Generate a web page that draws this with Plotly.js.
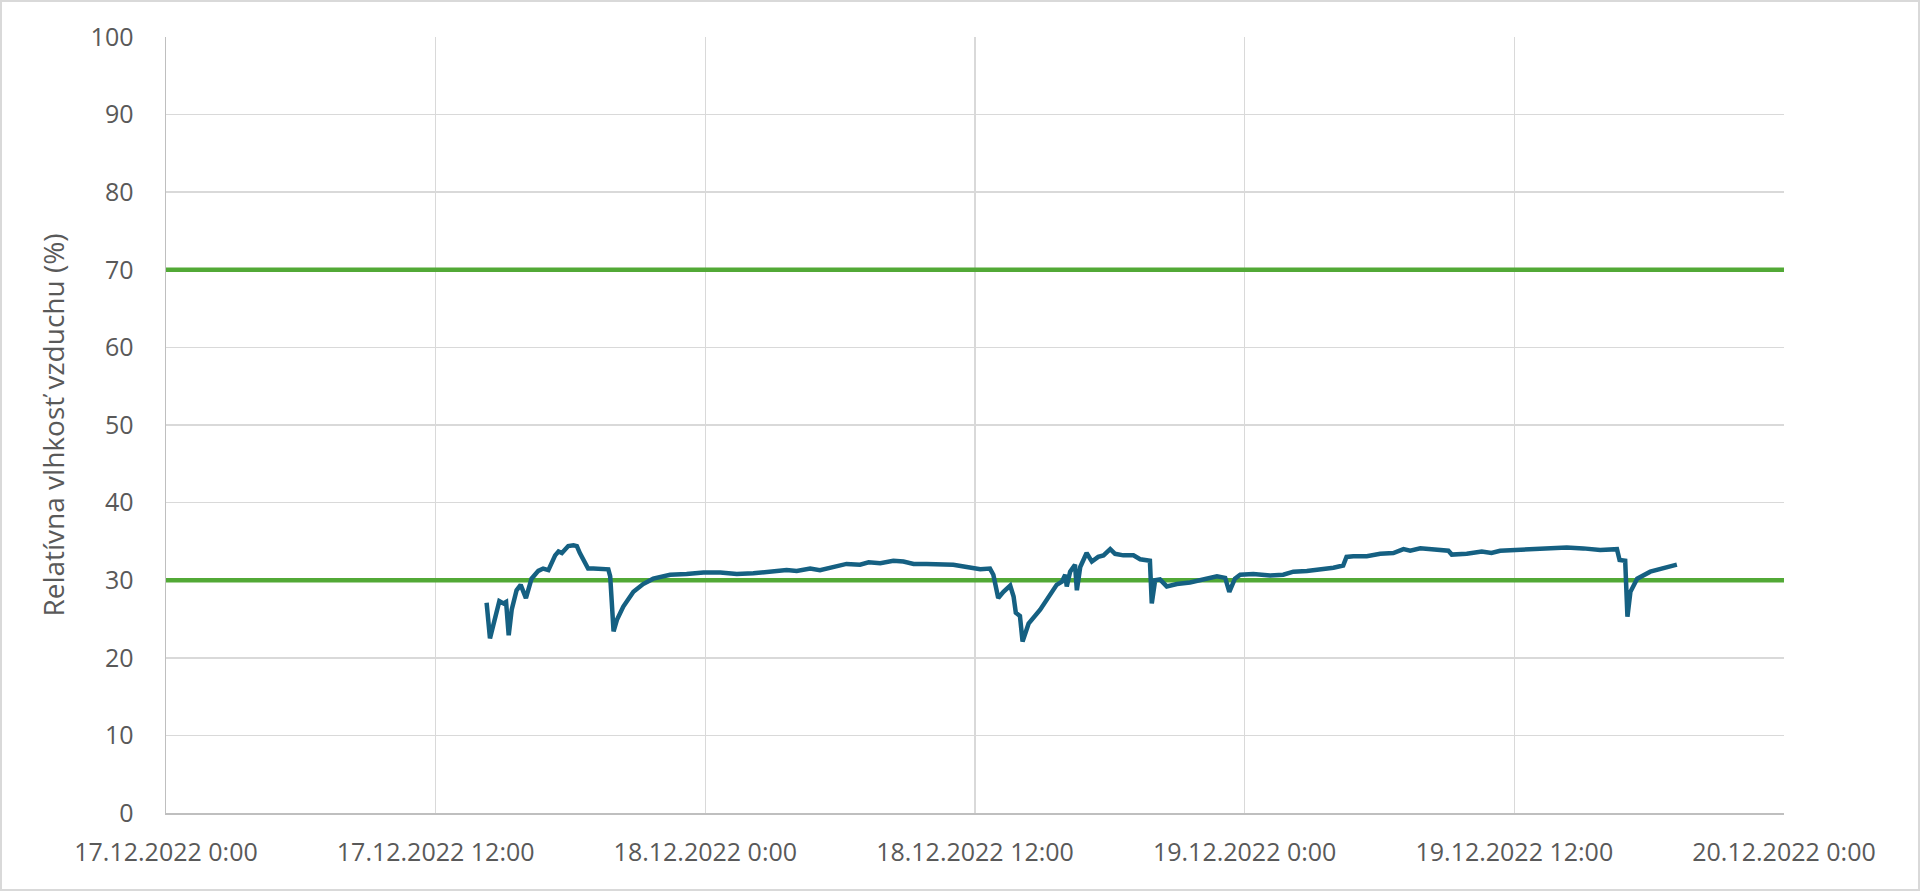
<!DOCTYPE html>
<html>
<head>
<meta charset="utf-8">
<script src="https://cdn.plot.ly/plotly-3.0.1.min.js"></script>
<style>
html,body{margin:0;padding:0;background:#fff;}
#wrap{position:relative;width:1920px;height:891px;}
#chart{width:1920px;height:891px;}
#frame{position:absolute;left:0;top:0;width:1920px;height:891px;box-sizing:border-box;border:2px solid #d9d9d9;pointer-events:none;}
</style>
</head>
<body>
<div id="wrap"><div id="chart"></div><div id="frame"></div></div>
<script>
const times = [
"2022-12-17 14:16","2022-12-17 14:25","2022-12-17 14:50","2022-12-17 15:01","2022-12-17 15:08","2022-12-17 15:15","2022-12-17 15:23","2022-12-17 15:36","2022-12-17 15:47","2022-12-17 16:01",
"2022-12-17 16:16","2022-12-17 16:34","2022-12-17 16:47","2022-12-17 17:01","2022-12-17 17:19","2022-12-17 17:28","2022-12-17 17:37","2022-12-17 17:46","2022-12-17 17:54","2022-12-17 18:08",
"2022-12-17 18:17","2022-12-17 18:25","2022-12-17 18:39","2022-12-17 18:47","2022-12-17 19:01","2022-12-17 19:28","2022-12-17 19:41","2022-12-17 19:46","2022-12-17 19:55","2022-12-17 20:04",
"2022-12-17 20:21","2022-12-17 20:48","2022-12-17 21:14","2022-12-17 21:41","2022-12-17 22:26","2022-12-17 23:10","2022-12-17 23:55","2022-12-18 00:40","2022-12-18 01:24","2022-12-18 02:08",
"2022-12-18 02:35","2022-12-18 03:02","2022-12-18 03:37","2022-12-18 04:04","2022-12-18 04:40","2022-12-18 05:06","2022-12-18 05:42","2022-12-18 06:17","2022-12-18 06:53","2022-12-18 07:16",
"2022-12-18 07:47","2022-12-18 08:22","2022-12-18 08:49","2022-12-18 09:16","2022-12-18 09:51","2022-12-18 10:27","2022-12-18 11:02","2022-12-18 11:38","2022-12-18 12:14","2022-12-18 12:40",
"2022-12-18 12:49","2022-12-18 13:02","2022-12-18 13:16","2022-12-18 13:34","2022-12-18 13:43","2022-12-18 13:49","2022-12-18 14:00","2022-12-18 14:07","2022-12-18 14:23","2022-12-18 14:54",
"2022-12-18 15:20","2022-12-18 15:38","2022-12-18 15:52","2022-12-18 16:01","2022-12-18 16:05","2022-12-18 16:14","2022-12-18 16:27","2022-12-18 16:32","2022-12-18 16:41","2022-12-18 16:58",
"2022-12-18 17:12","2022-12-18 17:29","2022-12-18 17:43","2022-12-18 18:01","2022-12-18 18:14","2022-12-18 18:36","2022-12-18 19:03","2022-12-18 19:21","2022-12-18 19:47","2022-12-18 19:52",
"2022-12-18 20:01","2022-12-18 20:14","2022-12-18 20:32","2022-12-18 20:59","2022-12-18 21:34","2022-12-18 22:01","2022-12-18 22:46","2022-12-18 23:08","2022-12-18 23:19","2022-12-18 23:34",
"2022-12-18 23:48","2022-12-19 00:23","2022-12-19 01:08","2022-12-19 01:43","2022-12-19 02:10","2022-12-19 02:46","2022-12-19 03:22","2022-12-19 03:57","2022-12-19 04:23","2022-12-19 04:32",
"2022-12-19 04:50","2022-12-19 05:26","2022-12-19 06:02","2022-12-19 06:37","2022-12-19 07:04","2022-12-19 07:22","2022-12-19 07:49","2022-12-19 08:33","2022-12-19 09:04","2022-12-19 09:13",
"2022-12-19 09:53","2022-12-19 10:33","2022-12-19 10:59","2022-12-19 11:22","2022-12-19 12:07","2022-12-19 12:51","2022-12-19 13:35","2022-12-19 14:20","2022-12-19 15:04","2022-12-19 15:49",
"2022-12-19 16:34","2022-12-19 16:41","2022-12-19 16:56","2022-12-19 17:02","2022-12-19 17:10","2022-12-19 17:28","2022-12-19 18:03","2022-12-19 18:38","2022-12-19 19:14"
];
const humidity = [
27.1,22.5,27.3,27.0,27.2,22.9,26.2,28.7,29.4,27.7,
30.2,31.2,31.5,31.3,33.2,33.7,33.5,34.1,34.4,34.5,
34.4,33.5,32.2,31.5,31.5,31.5,31.4,30.5,23.4,24.9,
26.6,28.5,29.5,30.2,30.7,30.8,31.0,31.0,30.8,30.9,
31.0,31.2,31.3,31.2,31.5,31.3,31.7,32.1,32.0,32.3,
32.2,32.5,32.4,32.1,32.1,32.1,32.0,31.7,31.4,31.5,
30.7,27.7,28.5,29.3,27.9,25.8,25.4,22.1,24.4,26.2,
28.1,29.4,29.8,30.7,29.2,31.1,32.0,28.7,31.7,33.5,
32.4,33.0,33.2,34.0,33.4,33.2,33.2,32.7,32.5,27.0,
30.0,30.1,29.2,29.5,29.7,30.0,30.5,30.3,28.5,30.2,
30.7,30.8,30.6,30.7,31.1,31.2,31.4,31.6,31.9,33.0,
33.1,33.1,33.4,33.5,34.0,33.8,34.1,33.9,33.8,33.3,
33.4,33.7,33.5,33.8,33.9,34.0,34.1,34.2,34.1,33.9,
34.0,32.6,32.5,25.3,28.5,30.2,31.1,31.5,32.0
];
const limitTimes = ["2022-12-17 00:00","2022-12-20 00:00"];
const upperLimit = [70,70];
const lowerLimit = [30,30];
const yTitle = "Relatívna vlhkosť vzduchu (%)";

const tickFont = {family:"Open Sans, Lato, sans-serif", size:25, color:"#595959"};
const traces = [
  {x:limitTimes, y:upperLimit, type:"scatter", mode:"lines", line:{color:"#52a936", width:4.5}, hoverinfo:"skip"},
  {x:limitTimes, y:lowerLimit, type:"scatter", mode:"lines", line:{color:"#52a936", width:4.5}, hoverinfo:"skip"},
  {x:times, y:humidity, type:"scatter", mode:"lines", line:{color:"#156082", width:4.5}}
];
const layout = {
  width:1920, height:891,
  margin:{l:166, r:136, t:37, b:78},
  paper_bgcolor:"#ffffff", plot_bgcolor:"#ffffff",
  showlegend:false,
  font:tickFont,
  xaxis:{
    type:"date",
    range:["2022-12-17 00:00","2022-12-20 00:00"],
    tick0:"2022-12-17 00:00", dtick:43200000,
    tickformat:"%-d.%m.%Y %-H:%M",
    showgrid:true, gridcolor:"#d9d9d9", gridwidth:1.5,
    showline:true, linecolor:"#bfbfbf", linewidth:1.5,
    zeroline:false, ticks:"", ticklabelstandoff:16,
    tickfont:tickFont
  },
  yaxis:{
    range:[0,100], dtick:10, tick0:0,
    showgrid:true, gridcolor:"#d9d9d9", gridwidth:1.5,
    showline:true, linecolor:"#bfbfbf", linewidth:1.5,
    zeroline:false, ticks:"", ticklabelstandoff:26,
    tickfont:tickFont,
    title:{text:yTitle, font:{family:"Open Sans, Lato, sans-serif", size:28, color:"#595959"}, standoff:18}
  }
};
Plotly.newPlot("chart", traces, layout, {displayModeBar:false, staticPlot:true});
</script>
</body>
</html>
